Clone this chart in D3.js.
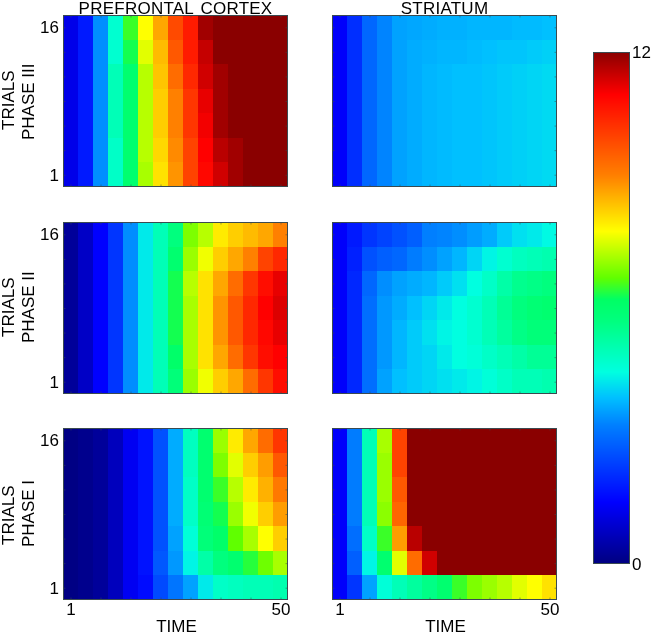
<!DOCTYPE html>
<html>
<head>
<meta charset="utf-8">
<script src="https://cdn.jsdelivr.net/npm/d3@7"></script>
<style>
  html, body { margin: 0; background: #fff; }
  svg { display: block; filter: blur(0.45px); }
  text { font-family: "Liberation Sans", Arial, sans-serif; fill: #000; }
  .cell { shape-rendering: crispEdges; }
  .frame { fill: none; stroke: #3a4a50; stroke-width: 1; }
  .axis path { display: none; }
  .axis line { stroke: #3a4a50; stroke-opacity: 0.5; }
</style>
</head>
<body>
<div id="chart"></div>
<script>
// rows run from trial 16 (top) to trial 1 (bottom), columns are the 15 time bins
const trial_ticks = [16, 1];
const time_ticks = [1, 50];
const range_ticks = [0, 12];
const minor_trial_ticks = [1, 3.5, 6, 8.5, 11, 13.5, 16];
const minor_time_ticks = [1, 8, 15, 22, 29, 36, 43, 50];
const column_titles = ["PREFRONTAL CORTEX", "STRIATUM"];
const phase_names = ["PHASE III", "PHASE II", "PHASE I"];

const pfc_phase3 = [
  [1.2, 1.8, 3.4, 4.7, 6.5, 7.8, 8.7, 9.9, 10.6, 11.8, 12, 12, 12, 12, 12],
  [1.2, 1.8, 3.4, 4.7, 6.3, 7.6, 8.5, 9.7, 10.6, 11.5, 12, 12, 12, 12, 12],
  [1.2, 1.8, 3.4, 5.0, 6.0, 7.3, 8.4, 9.4, 10.4, 11.4, 11.8, 12, 12, 12, 12],
  [1.2, 1.8, 3.4, 5.0, 6.0, 7.3, 8.3, 9.1, 10.2, 11.2, 11.8, 12, 12, 12, 12],
  [1.2, 1.8, 3.4, 5.0, 6.0, 7.3, 8.3, 9.1, 10.2, 11.1, 11.8, 12, 12, 12, 12],
  [1.2, 1.8, 3.4, 4.8, 6.0, 7.3, 8.2, 9.0, 10.0, 11.0, 11.6, 11.8, 12, 12, 12],
  [1.2, 1.8, 3.4, 4.8, 6.0, 7.2, 8.1, 8.9, 10.0, 10.9, 11.4, 11.8, 12, 12, 12]
];
const str_phase3 = [
  [1.4, 2.1, 2.9, 3.3, 3.6, 3.65, 3.7, 3.75, 3.75, 3.8, 3.8, 3.8, 3.85, 3.85, 3.9],
  [1.4, 2.1, 2.9, 3.3, 3.6, 3.7, 3.75, 3.8, 3.8, 3.85, 3.9, 3.95, 3.95, 4.0, 4.05],
  [1.4, 2.1, 2.9, 3.3, 3.6, 3.7, 3.8, 3.85, 3.9, 3.9, 3.95, 4.0, 4.05, 4.1, 4.15],
  [1.4, 2.1, 2.9, 3.3, 3.6, 3.7, 3.8, 3.85, 3.9, 3.9, 3.95, 4.0, 4.05, 4.1, 4.15],
  [1.4, 2.1, 2.9, 3.3, 3.6, 3.7, 3.8, 3.85, 3.9, 3.9, 3.95, 4.0, 4.05, 4.1, 4.15],
  [1.4, 2.1, 2.9, 3.3, 3.6, 3.7, 3.8, 3.85, 3.9, 3.9, 3.95, 4.0, 4.05, 4.1, 4.15],
  [1.4, 2.1, 2.9, 3.3, 3.6, 3.7, 3.8, 3.85, 3.9, 3.9, 3.95, 4.0, 4.05, 4.1, 4.15]
];
const pfc_phase2 = [
  [0.3, 0.8, 1.45, 2.2, 3.4, 4.3, 5.0, 5.7, 6.9, 7.3, 8.0, 8.3, 8.5, 8.7, 9.1],
  [0.3, 0.8, 1.45, 2.2, 3.4, 4.3, 5.0, 6.0, 7.1, 7.7, 8.3, 8.7, 9.1, 10.0, 10.4],
  [0.3, 0.8, 1.45, 2.2, 3.4, 4.3, 5.0, 6.3, 7.3, 8.1, 8.7, 9.4, 10.2, 10.8, 11.2],
  [0.3, 0.8, 1.45, 2.2, 3.4, 4.3, 5.0, 6.3, 7.2, 8.1, 8.9, 9.7, 10.4, 11.0, 11.3],
  [0.3, 0.8, 1.45, 2.2, 3.4, 4.3, 5.0, 6.3, 7.2, 8.1, 8.9, 9.7, 10.4, 10.9, 11.2],
  [0.3, 0.8, 1.45, 2.2, 3.4, 4.3, 5.0, 6.1, 7.2, 8.1, 8.7, 9.4, 10.2, 10.8, 11.0],
  [0.3, 0.8, 1.45, 2.2, 3.4, 4.3, 5.0, 5.8, 7.1, 7.7, 8.3, 8.7, 9.4, 10.2, 10.8]
];
const str_phase2 = [
  [1.4, 1.8, 2.2, 2.4, 2.6, 2.8, 3.25, 3.3, 3.4, 3.55, 3.7, 4.0, 4.2, 4.3, 4.45],
  [1.4, 1.9, 2.6, 2.8, 2.9, 3.2, 3.4, 3.6, 3.8, 4.1, 4.4, 4.7, 4.9, 5.0, 5.1],
  [1.4, 2.0, 2.9, 3.4, 3.6, 3.7, 3.8, 4.0, 4.2, 4.5, 4.8, 5.2, 5.5, 5.6, 5.7],
  [1.4, 2.0, 3.0, 3.5, 3.7, 3.9, 4.1, 4.3, 4.5, 4.7, 5.0, 5.4, 5.7, 5.9, 6.0],
  [1.4, 2.0, 3.0, 3.5, 3.8, 4.0, 4.2, 4.4, 4.5, 4.7, 5.0, 5.3, 5.6, 5.8, 5.8],
  [1.4, 2.0, 3.0, 3.5, 3.8, 4.0, 4.1, 4.3, 4.5, 4.6, 4.8, 5.0, 5.2, 5.4, 5.4],
  [1.4, 2.0, 3.0, 3.6, 3.9, 4.0, 4.1, 4.2, 4.3, 4.4, 4.6, 4.8, 5.0, 5.0, 5.1]
];
const pfc_phase1 = [
  [0.05, 0.15, 0.3, 0.7, 1.3, 1.7, 2.6, 3.7, 4.9, 6.0, 7.1, 8.0, 8.7, 9.4, 10.2],
  [0.05, 0.15, 0.3, 0.7, 1.3, 1.7, 2.6, 3.7, 4.9, 6.0, 6.9, 7.6, 8.3, 8.8, 9.7],
  [0.05, 0.15, 0.3, 0.7, 1.3, 1.7, 2.6, 3.7, 4.8, 6.0, 6.5, 7.3, 8.0, 8.6, 9.2],
  [0.05, 0.15, 0.3, 0.7, 1.3, 1.7, 2.6, 3.7, 4.8, 5.9, 6.3, 7.1, 7.7, 8.3, 8.8],
  [0.05, 0.15, 0.3, 0.7, 1.3, 1.7, 2.6, 3.6, 4.6, 5.8, 6.1, 6.7, 7.2, 7.8, 8.3],
  [0.05, 0.15, 0.3, 0.7, 1.3, 1.7, 2.7, 3.5, 4.4, 5.2, 5.7, 6.0, 6.4, 6.8, 7.2],
  [0.05, 0.15, 0.3, 0.7, 1.3, 1.6, 2.5, 3.1, 3.6, 4.3, 4.8, 4.9, 5.0, 5.0, 5.1]
];
const str_phase1 = [
  [1.4, 3.2, 5.0, 7.2, 10.0, 12, 12, 12, 12, 12, 12, 12, 12, 12, 12],
  [1.4, 3.2, 5.0, 7.1, 10.0, 12, 12, 12, 12, 12, 12, 12, 12, 12, 12],
  [1.4, 3.2, 5.0, 7.1, 9.7, 12, 12, 12, 12, 12, 12, 12, 12, 12, 12],
  [1.4, 3.2, 5.0, 7.0, 9.5, 12, 12, 12, 12, 12, 12, 12, 12, 12, 12],
  [1.4, 3.0, 4.8, 6.5, 8.8, 11.6, 12, 12, 12, 12, 12, 12, 12, 12, 12],
  [1.4, 2.8, 4.4, 6.0, 7.6, 9.4, 11.4, 12, 12, 12, 12, 12, 12, 12, 12],
  [1.4, 2.2, 3.6, 4.6, 5.0, 5.3, 5.6, 6.0, 6.5, 6.9, 7.1, 7.3, 7.6, 7.8, 8.1]
];

const grids = [
  [pfc_phase3, str_phase3],
  [pfc_phase2, str_phase2],
  [pfc_phase1, str_phase1]
];

const __CONFIG__ = {
  width: 652,
  height: 635,
  column_x: [63, 332],
  row_y: [15, 222, 428],
  panel_width: 225,
  panel_height: 172,
  phase_bottom: [140, 343, 547],
  trials_bottom: [130, 337, 545],
  bar: { x: 593, y: 52, width: 37, height: 512 },
  font_size: 17
};

// jet as it appears on the reference colour bar
const jet_values = [0, 1.45, 3.26, 3.9, 4.5, 5.67, 6.2, 6.7, 7.8, 9.1, 11.0, 12];
const jet_colors = ["#000080", "#0000ff", "#0080ff", "#00c0ff", "#00ffe0", "#00ff80",
                    "#00ff64", "#60ff00", "#ffff00", "#ff8000", "#ff0000", "#8a0000"];
const color = d3.scaleLinear().domain(jet_values).range(jet_colors).clamp(true);

const cfg = __CONFIG__;
const svg = d3.select("#chart").append("svg")
  .attr("width", cfg.width)
  .attr("height", cfg.height);

function size_labels(sel) {
  sel.selectAll("text")
    .attr("font-size", cfg.font_size)
    .style("font-family", null);
}

function draw_panel(grid, col, row) {
  const x0 = cfg.column_x[col];
  const y0 = cfg.row_y[row];
  const g = svg.append("g").attr("transform", `translate(${x0},${y0})`);

  const x = d3.scaleBand().domain(d3.range(grid[0].length)).range([0, cfg.panel_width]);
  const y = d3.scaleBand().domain(d3.range(grid.length)).range([0, cfg.panel_height]);

  g.selectAll("g.row")
    .data(grid)
    .join("g")
      .classed("row", true)
      .attr("transform", (d, i) => `translate(0,${y(i)})`)
    .selectAll("rect")
    .data(d => d)
    .join("rect")
      .classed("cell", true)
      .attr("x", (d, i) => x(i))
      .attr("width", x.bandwidth())
      .attr("height", y.bandwidth())
      .attr("fill", d => color(d));

  g.append("rect")
    .classed("frame", true)
    .attr("x", 0.5)
    .attr("y", 0.5)
    .attr("width", cfg.panel_width - 1)
    .attr("height", cfg.panel_height - 1);

  // ticks sit on the centres of the first and last cells
  const half_x = x.bandwidth() / 2;
  const half_y = y.bandwidth() / 2;
  const trial_scale = d3.scaleLinear()
    .domain(d3.extent(trial_ticks))
    .range([cfg.panel_height - half_y, half_y]);
  const time_scale = d3.scaleLinear()
    .domain(time_ticks)
    .range([half_x, cfg.panel_width - half_x]);

  // faint inward ticks on all four sides
  const sides = [
    [d3.axisLeft(trial_scale).tickValues(minor_trial_ticks), 0, 0],
    [d3.axisRight(trial_scale).tickValues(minor_trial_ticks), cfg.panel_width, 0],
    [d3.axisTop(time_scale).tickValues(minor_time_ticks), 0, 0],
    [d3.axisBottom(time_scale).tickValues(minor_time_ticks), 0, cfg.panel_height]
  ];
  for (let [axis, tx, ty] of sides) {
    g.append("g")
      .classed("axis", true)
      .attr("transform", `translate(${tx},${ty})`)
      .call(axis.tickSize(-2.5).tickFormat(""));
  }

  if (col == 0) {
    const axis = d3.axisLeft(trial_scale).tickValues(trial_ticks).tickSize(0).tickPadding(4);
    g.append("g").classed("axis", true).call(axis).call(size_labels);
  }
  if (row == 2) {
    const axis = d3.axisBottom(time_scale).tickValues(time_ticks).tickSize(0).tickPadding(3);
    g.append("g")
      .classed("axis", true)
      .attr("transform", `translate(0,${cfg.panel_height})`)
      .call(axis)
      .call(size_labels);
    g.append("text")
      .attr("x", cfg.panel_width / 2 + 1)
      .attr("y", cfg.panel_height + 32)
      .attr("text-anchor", "middle")
      .attr("font-size", cfg.font_size)
      .text("TIME");
  }
}

grids.forEach((pair, row) => pair.forEach((grid, col) => draw_panel(grid, col, row)));

column_titles.forEach((title, col) => {
  svg.append("text")
    .attr("x", cfg.column_x[col] + cfg.panel_width / 2)
    .attr("y", 14)
    .attr("text-anchor", "middle")
    .attr("font-size", cfg.font_size)
    .attr("letter-spacing", 0.25)
    .attr("word-spacing", 2)
    .text(title);
});

phase_names.forEach((name, row) => {
  svg.append("text")
    .attr("transform", `translate(14,${cfg.trials_bottom[row]}) rotate(-90)`)
    .attr("font-size", cfg.font_size)
    .text("TRIALS");
  svg.append("text")
    .attr("transform", `translate(34,${cfg.phase_bottom[row]}) rotate(-90)`)
    .attr("font-size", cfg.font_size)
    .text(name);
});

// colour bar
const bar = cfg.bar;
const bar_scale = d3.scaleLinear().domain(d3.extent(range_ticks)).range([bar.height, 0]);
const bar_g = svg.append("g").attr("transform", `translate(${bar.x},${bar.y})`);
bar_g.selectAll("rect")
  .data(d3.range(bar.height))
  .join("rect")
    .classed("cell", true)
    .attr("y", d => d)
    .attr("width", bar.width)
    .attr("height", 1)
    .attr("fill", d => color(bar_scale.invert(d + 0.5)));
bar_g.append("rect")
  .classed("frame", true)
  .attr("x", 0.5)
  .attr("y", 0.5)
  .attr("width", bar.width - 1)
  .attr("height", bar.height - 1);
bar_g.append("g")
  .classed("axis", true)
  .attr("transform", `translate(${bar.width},0)`)
  .call(d3.axisRight(bar_scale).tickValues(range_ticks).tickSize(0).tickPadding(2))
  .call(size_labels);
</script>
</body>
</html>
